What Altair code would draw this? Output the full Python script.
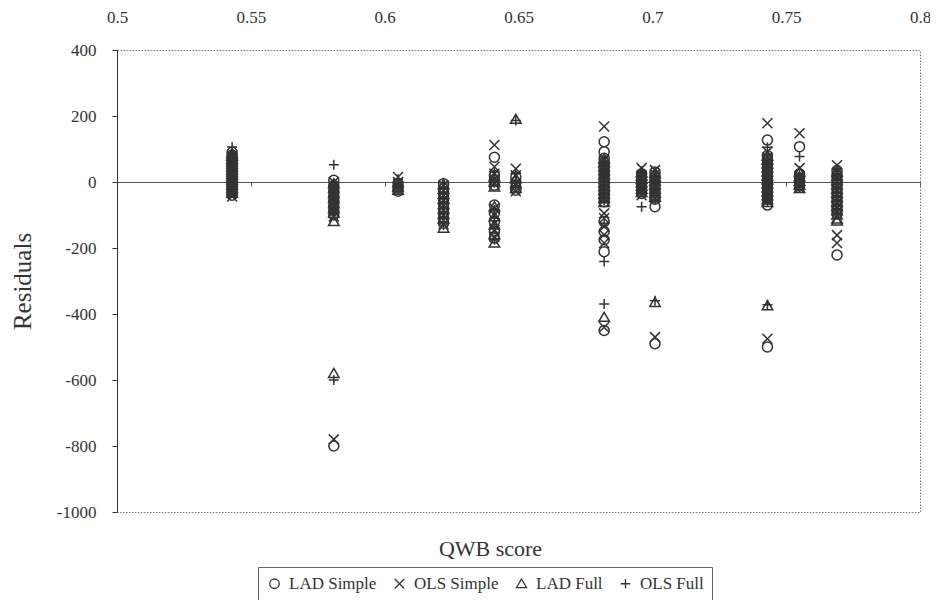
import altair as alt
import pandas as pd

# ---------------- data ----------------
qwb_scores = [0.543, 0.581, 0.605, 0.622, 0.641, 0.649, 0.682, 0.696, 0.701, 0.743, 0.755, 0.769]

series_names = ["LAD Simple", "OLS Simple", "LAD Full", "OLS Full"]

lad_simple = [
    [90, 82, 74, 66, 58, 50, 42, 34, 26, 18, 10, 2, -6, -14, -22, -30, -40],
    [5, -10, -25, -40, -55, -70, -85, -100, -800],
    [-5, -18, -28],
    [-5, -20, -35, -50, -65, -80, -95, -110, -125],
    [75, 20, 5, -10, -70, -95, -120, -150, -170],
    [15, 0, -15, -25],
    [122, 92, 72, 60, 48, 36, 24, 12, 0, -12, -24, -36, -48, -60, -120, -150, -175, -211, -450],
    [25, 15, 5, -5, -15, -25, -35],
    [30, 18, 6, -6, -18, -30, -42, -52, -75, -490],
    [127, 80, 68, 56, 44, 32, 20, 8, -4, -16, -28, -40, -52, -70, -500],
    [107, 25, 12, 0, -12],
    [35, 22, 9, -4, -17, -30, -43, -56, -69, -82, -95, -221],
]
ols_simple = [
    [78, 70, 62, 54, 46, 38, 30, 22, 14, 6, -2, -10, -18, -26, -34, -44],
    [0, -15, -30, -45, -60, -75, -90, -105, -780],
    [15, 0, -12, -24],
    [-10, -25, -40, -55, -70, -85, -100, -115, -128],
    [112, 46, 25, 10, -5, -80, -100, -125, -145, -165],
    [40, 20, -10, -28],
    [168, 66, 54, 42, 30, 18, 6, -6, -18, -30, -42, -54, -95, -110, -135, -160, -185, -440],
    [42, 20, 10, 0, -10, -20, -30, -40],
    [36, 24, 12, 0, -12, -24, -36, -48, -470],
    [178, 92, 74, 62, 50, 38, 26, 14, 2, -10, -22, -34, -46, -58, -475],
    [148, 42, 18, 6, -6, -18],
    [51, 28, 15, 2, -11, -24, -37, -50, -63, -76, -89, -161, -185],
]
lad_full = [
    [86, 78, 70, 62, 54, 46, 38, 30, 22, 14, 6, -2, -10, -18, -26, -34],
    [-5, -20, -35, -50, -65, -80, -95, -120, -580],
    [-2, -15, -25],
    [-8, -22, -38, -52, -68, -82, -98, -112, -140],
    [15, 0, -15, -75, -105, -130, -160, -185],
    [190, 10, -5, -20],
    [70, 58, 46, 34, 22, 10, -2, -14, -26, -38, -50, -62, -410],
    [28, 18, 8, -2, -12, -22, -32],
    [26, 14, 2, -10, -22, -34, -46, -365],
    [78, 66, 54, 42, 30, 18, 6, -6, -18, -30, -42, -54, -62, -375],
    [30, 15, 2, -10, -20],
    [30, 17, 4, -9, -22, -35, -48, -61, -74, -87, -100, -112, -118],
]
ols_full = [
    [106, 80, 72, 64, 56, 48, 40, 32, 24, 16, 8, 0, -8, -16, -24, -32],
    [52, -8, -22, -38, -52, -68, -82, -98, -600],
    [8, -8, -20],
    [-2, -18, -32, -48, -62, -78, -92, -108, -130],
    [30, 12, -2, -85, -110, -140, -175],
    [186, 25, 5, -12],
    [64, 52, 40, 28, 16, 4, -8, -20, -32, -44, -56, -125, -241, -370],
    [32, 22, 12, 2, -8, -18, -28, -75],
    [20, 8, -4, -16, -28, -40, -52, -360],
    [105, 72, 60, 48, 36, 24, 12, 0, -12, -24, -36, -48, -60, -372],
    [77, 22, 8, -4, -16],
    [40, 26, 12, -2, -16, -30, -44, -58, -72, -86, -98],
]

x_tick_values = [0.5, 0.55, 0.6, 0.65, 0.7, 0.75, 0.8]
y_tick_values = [400, 200, 0, -200, -400, -600, -800, -1000]

rows = []
for name, groups in zip(series_names, [lad_simple, ols_simple, lad_full, ols_full]):
    for x, ys in zip(qwb_scores, groups):
        for y in ys:
            rows.append({"qwb": x, "resid": y, "series": name})
df = pd.DataFrame(rows)
ticks_df = pd.DataFrame({"qwb": x_tick_values})

# ---------------- styling ----------------
FONT = "Liberation Serif"
INK = "#333333"
W, H = 803, 462

shape_paths = [
    "circle",
    "M-1,-1L1,1M-1,1L1,-1",
    "M0,-1L1.05,0.8L-1.05,0.8Z",
    "M-1,0L1,0M0,-1L0,1",
]

xscale = alt.Scale(domain=[0.5, 0.8], nice=False, zero=False)
yscale = alt.Scale(domain=[-1000, 400], nice=False, zero=False)

top_axis = alt.Axis(
    orient="top", values=x_tick_values, labelExpr="'' + datum.value",
    title=None, domain=False, ticks=False, tickSize=0, grid=False,
    labelPadding=24, labelFont=FONT, labelFontSize=17, labelColor=INK,
    labelFlush=False,
)
y_axis = alt.Axis(
    values=y_tick_values, labelExpr="'' + datum.value", title="Residuals",
    grid=False, domainColor=INK, tickColor=INK, tickSize=5, labelPadding=16,
    labelFont=FONT, labelFontSize=17, labelColor=INK, labelFlush=False,
    titleFont=FONT, titleFontSize=25, titleFontWeight="normal", titleColor=INK,
    titleX=-95, titleBaseline="middle",
)
zero_axis = alt.Axis(
    orient="bottom", offset=-330, values=x_tick_values, labels=False,
    ticks=True, tickSize=4, tickColor="#555", domain=True, domainColor="#555",
    title=None, grid=False,
)
title_axis = alt.Axis(
    orient="bottom", labels=False, ticks=False, domain=False, grid=False,
    title="QWB score", titleFont=FONT, titleFontSize=22, titleFontWeight="normal",
    titleColor=INK, titleX=373, titleY=36, titleBaseline="middle",
)

zero_layer = alt.Chart(ticks_df).mark_point(opacity=0).encode(
    x=alt.X("qwb:Q", scale=xscale, axis=zero_axis),
    y=alt.value(0),
)
title_layer = alt.Chart(ticks_df).mark_point(opacity=0).encode(
    x=alt.X("qwb:Q", scale=xscale, axis=title_axis),
    y=alt.value(0),
)
points = alt.Chart(df).mark_point(filled=False, strokeWidth=1.5, size=100, opacity=1).encode(
    x=alt.X("qwb:Q", scale=xscale, axis=top_axis),
    y=alt.Y("resid:Q", scale=yscale, axis=y_axis),
    shape=alt.Shape(
        "series:N",
        scale=alt.Scale(domain=series_names, range=shape_paths),
        legend=alt.Legend(
            title=None, orient="none", legendX=141, legendY=517,
            direction="horizontal", strokeColor="#666", padding=8,
            labelFont=FONT, labelFontSize=17, labelColor=INK,
            symbolStrokeColor=INK, symbolStrokeWidth=1.3, symbolSize=90,
            columnPadding=14, labelOffset=6,
        ),
    ),
    color=alt.value(INK),
)

chart = (
    alt.layer(zero_layer, title_layer, points)
    .resolve_axis(x="independent")
    .properties(
        width=W, height=H,
        autosize=alt.AutoSizeParams(type="none"),
        padding={"left": 109, "top": 42, "right": 10, "bottom": 88},
        background="white",
    )
    .configure_view(stroke="#777", strokeDash=[1.5, 1.5], strokeWidth=1)
)

chart.save("out.html", embed_options={"renderer": "svg", "actions": False})
